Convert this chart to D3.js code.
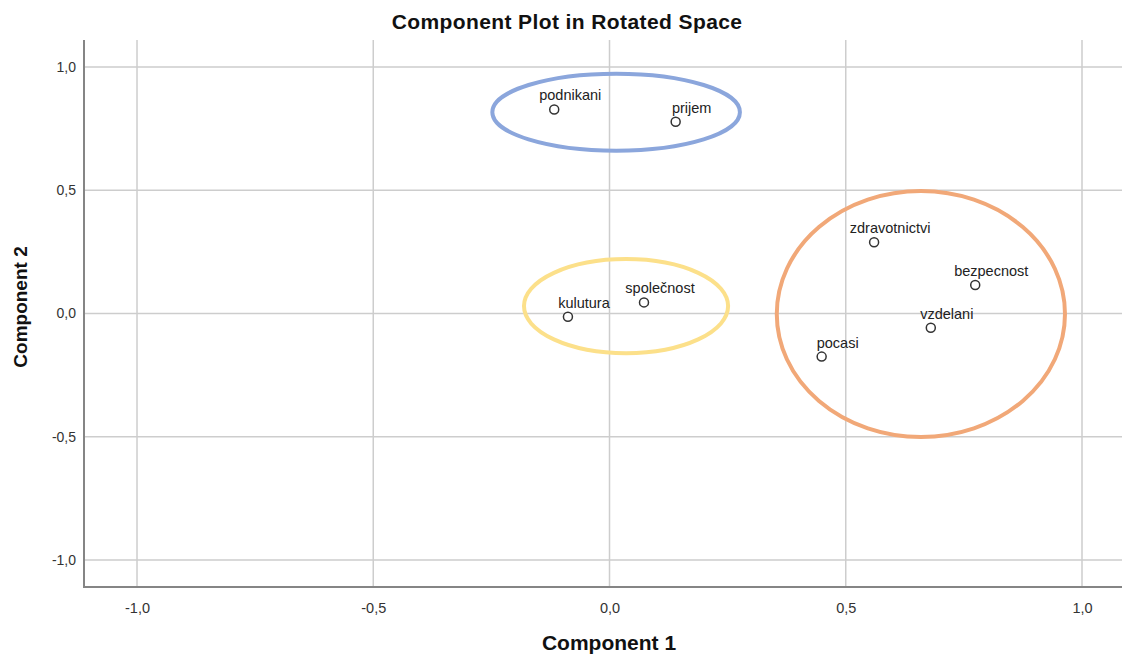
<!DOCTYPE html>
<html>
<head>
<meta charset="utf-8">
<script src="https://cdn.jsdelivr.net/npm/d3@7"></script>
<style>
    body { margin: 0; background: #fff; }
    #chart { width: 1122px; height: 654px; position: relative; }
</style>
</head>
<body>
<div id="chart"></div>
<script>
const varNames = ["podnikani", "prijem", "kulutura", "společnost", "zdravotnictvi", "bezpecnost", "vzdelani", "pocasi"];
const comp1 = [-0.117, 0.140, -0.088, 0.073, 0.560, 0.774, 0.680, 0.449];
const comp2 = [0.828, 0.778, -0.013, 0.045, 0.289, 0.116, -0.058, -0.175];

const tickValues = [-1.0, -0.5, 0.0, 0.5, 1.0];

// hand-drawn cluster rings (center, radii in component units)
const ringCx = [0.014, 0.035, 0.659];
const ringCy = [0.817, 0.030, -0.002];
const ringRx = [0.262, 0.216, 0.305];
const ringRy = [0.156, 0.191, 0.499];
const ringColors = ["#8ba6dc", "#fce08a", "#f1a878"];

const w = 1122, h = 654;
const plotLeft = 84, plotTop = 40, plotBottom = 587;

const x = d3.scaleLinear().domain([-1.1122, 1.1]).range([plotLeft, 1129.25]);
const y = d3.scaleLinear().domain([-1.11, 1.11]).range([plotBottom, plotTop]);

const fmt = d3.formatLocale({decimal: ",", thousands: ".", grouping: [3], currency: ["", ""], minus: "-"}).format(".1f");

const svg = d3.select("#chart").append("svg")
    .attr("width", w)
    .attr("height", h)
    .style("font-family", "'Liberation Sans', Arial, sans-serif");

// title
svg.append("text")
    .text("Component Plot in Rotated Space")
    .attr("x", 567)
    .attr("y", 29)
    .attr("text-anchor", "middle")
    .style("font-size", "21px")
    .style("font-weight", "bold")
    .style("letter-spacing", "0.4px")
    .style("fill", "#111");

// gridlines
svg.append("g").attr("class", "grid_x")
    .selectAll("line").data(tickValues).join("line")
    .attr("x1", d => x(d)).attr("x2", d => x(d))
    .attr("y1", plotTop).attr("y2", plotBottom)
    .attr("stroke", "#cdcdcd")
    .attr("stroke-width", 1.5);

svg.append("g").attr("class", "grid_y")
    .selectAll("line").data(tickValues).join("line")
    .attr("x1", plotLeft).attr("x2", w)
    .attr("y1", d => y(d)).attr("y2", d => y(d))
    .attr("stroke", "#cdcdcd")
    .attr("stroke-width", 1.5);

// axis_x
const axisX = svg.append("g").attr("class", "axis_x")
    .attr("transform", `translate(0, ${plotBottom})`)
    .call(d3.axisBottom(x).tickValues(tickValues).tickSize(0).tickPadding(16).tickFormat(fmt));
axisX.select(".domain").remove();
axisX.selectAll("text")
    .style("font-size", "14.5px")
    .style("font-family", "'Liberation Sans', Arial, sans-serif")
    .style("fill", "#333");

// axis_y
const axisY = svg.append("g").attr("class", "axis_y")
    .attr("transform", `translate(${plotLeft}, 0)`)
    .call(d3.axisLeft(y).tickValues(tickValues).tickSize(0).tickPadding(8).tickFormat(fmt));
axisY.select(".domain").remove();
axisY.selectAll("text")
    .style("font-size", "14px")
    .style("font-family", "'Liberation Sans', Arial, sans-serif")
    .style("fill", "#333");

// axis lines
svg.append("line")
    .attr("x1", plotLeft).attr("x2", plotLeft).attr("y1", plotTop).attr("y2", plotBottom + 1)
    .attr("stroke", "#858585").attr("stroke-width", 2);
svg.append("line")
    .attr("x1", plotLeft - 1).attr("x2", w).attr("y1", plotBottom).attr("y2", plotBottom)
    .attr("stroke", "#858585").attr("stroke-width", 2);

// axis titles
svg.append("text")
    .text("Component 1")
    .attr("x", 609)
    .attr("y", 650)
    .attr("text-anchor", "middle")
    .style("font-size", "21px")
    .style("font-weight", "bold")
    .style("fill", "#111");

svg.append("text")
    .text("Component 2")
    .attr("transform", `translate(27, 307) rotate(-90)`)
    .attr("text-anchor", "middle")
    .style("font-size", "19px")
    .style("font-weight", "bold")
    .style("fill", "#111");

// rings
svg.append("g").attr("class", "rings")
    .selectAll("ellipse").data(ringCx).join("ellipse")
    .attr("cx", d => x(d))
    .attr("cy", (d, i) => y(ringCy[i]))
    .attr("rx", (d, i) => x(d + ringRx[i]) - x(d))
    .attr("ry", (d, i) => y(ringCy[i] - ringRy[i]) - y(ringCy[i]))
    .attr("fill", "none")
    .attr("stroke", (d, i) => ringColors[i])
    .attr("stroke-width", 4);

// nodes
const nodes = svg.append("g").attr("class", "nodes")
    .selectAll("g").data(varNames).join("g")
    .attr("transform", (d, i) => `translate(${x(comp1[i])}, ${y(comp2[i])})`);

nodes.append("circle")
    .attr("r", 4.5)
    .attr("fill", "#fff")
    .attr("stroke", "#333")
    .attr("stroke-width", 1.5);

nodes.append("text")
    .text(d => d)
    .attr("x", 16)
    .attr("y", -9)
    .attr("text-anchor", "middle")
    .style("font-size", "14.5px")
    .style("fill", "#222");
</script>
</body>
</html>
